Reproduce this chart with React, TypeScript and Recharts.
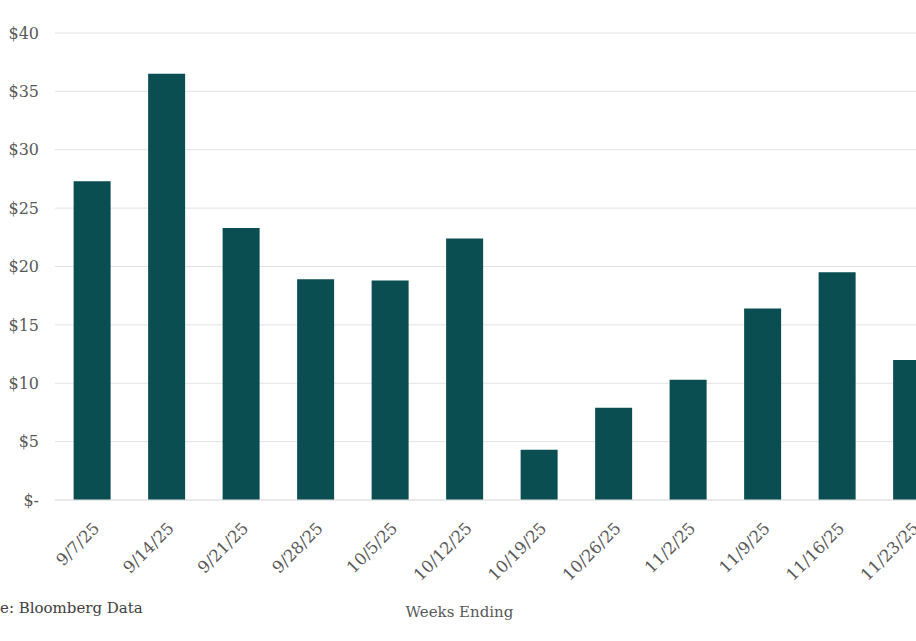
import React from 'react';
import { BarChart, Bar, XAxis, YAxis, CartesianGrid } from 'recharts';

const weeks = ['9/7/25', '9/14/25', '9/21/25', '9/28/25', '10/5/25', '10/12/25', '10/19/25', '10/26/25', '11/2/25', '11/9/25', '11/16/25', '11/23/25'];
const values = [27.3, 36.5, 23.3, 18.9, 18.8, 22.4, 4.3, 7.9, 10.3, 16.4, 19.5, 12.0];
const yTicks = [0, 5, 10, 15, 20, 25, 30, 35, 40];
const xTitle = 'Weeks Ending';
const sourceText = 'e: Bloomberg Data';

const data = weeks.map((w, i) => ({ week: w, value: values[i] }));

const FONT = "'DejaVu Serif', serif";
const TEXT = '#595959';
const GRID = '#e2e2e2';

export default function App() {
  return (
    <div style={{ position: 'fixed', left: 0, top: 0, width: 916, height: 641, overflow: 'hidden', background: '#fff', fontFamily: FONT }}>
      <BarChart width={950} height={641} data={data} margin={{ top: 33, right: 1, left: 0, bottom: 61 }} barCategoryGap="25%">
        <CartesianGrid vertical={false} stroke={GRID} />
        <XAxis
          dataKey="week"
          interval={0}
          tickLine={false}
          axisLine={{ stroke: GRID }}
          height={80}
          tickMargin={15}
          tick={{ angle: -45, textAnchor: 'end', fill: TEXT, fontSize: 16.5, fontFamily: FONT }}
        />
        <YAxis
          domain={[0, 40]}
          ticks={yTicks}
          interval={0}
          tickFormatter={(v: number) => (v === 0 ? '$-' : `$${v}`)}
          width={55}
          tickLine={false}
          axisLine={false}
          tickMargin={10}
          tick={{ fill: TEXT, fontSize: 16, fontFamily: FONT }}
        />
        <Bar dataKey="value" fill="#0A4E51" isAnimationActive={false} />
      </BarChart>
      <div style={{ position: 'absolute', left: 0, top: 600, fontSize: 15, lineHeight: '16px', color: '#404040', whiteSpace: 'nowrap' }}>{sourceText}</div>
      <div style={{ position: 'absolute', left: 0, width: 919, textAlign: 'center', top: 604, fontSize: 15, lineHeight: '17px', color: TEXT }}>{xTitle}</div>
    </div>
  );
}
